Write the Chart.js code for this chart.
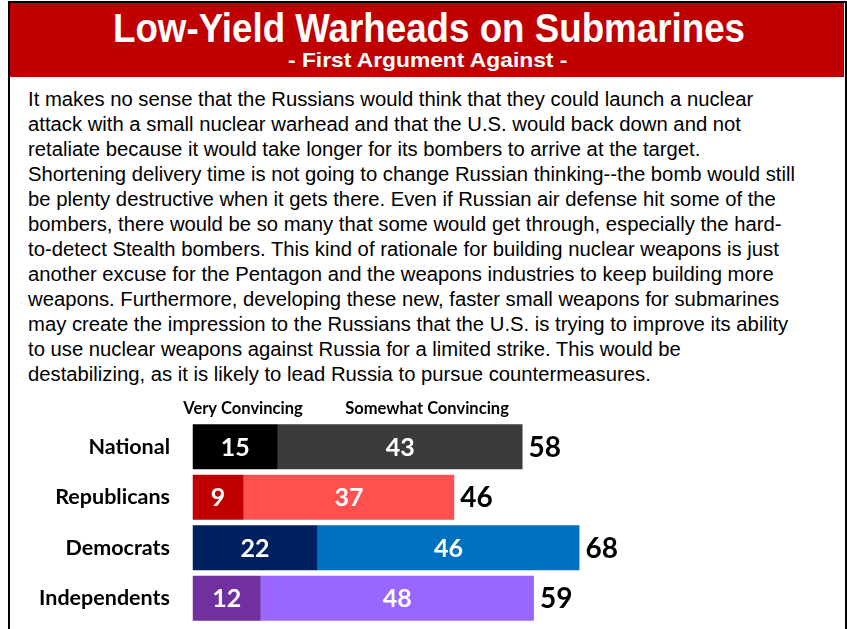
<!DOCTYPE html>
<html>
<head>
<meta charset="utf-8">
<script src="https://cdn.jsdelivr.net/npm/chart.js@4"></script>
<style>
  html, body { margin: 0; padding: 0; background: #fff; }
  body { width: 847px; height: 629px; position: relative; overflow: hidden; font-family: "Liberation Sans", Arial, sans-serif; }
  #frame { position: absolute; left: 8px; top: 1px; width: 835px; height: 640px; border: 2px solid #000; box-sizing: content-box; }
  #titlebox { position: absolute; left: 10px; top: 3px; width: 834px; height: 74px; background: #c00000; }
  .fit { position: absolute; white-space: nowrap; transform-origin: 0 50%; }
  #title { color: #fff; font-weight: bold; font-size: 40px; line-height: 40px; top: 8px; }
  #subtitle { color: #fff; font-weight: bold; font-size: 21px; line-height: 22px; top: 49px; }
  .body-line { color: #000; font-size: 20px; line-height: 24px; left: 28px; }
  #chartwrap { position: absolute; left: 0; top: 390px; width: 847px; height: 239px; }
</style>
</head>
<body>
<div id="frame"></div>
<div id="titlebox"></div>
<div id="title" class="fit">Low-Yield Warheads on Submarines</div>
<div id="subtitle" class="fit">- First Argument Against -</div>
<div id="bodytext"></div>
<div id="chartwrap"><canvas id="c" width="847" height="239"></canvas></div>
<script>
const categories = ["National", "Republicans", "Democrats", "Independents"];
const veryConvincing = [15, 9, 22, 12];
const somewhatConvincing = [43, 37, 46, 48];
const totals = [58, 46, 68, 59];
const seriesNames = ["Very Convincing", "Somewhat Convincing"];
const veryColors = ["#000000", "#c00000", "#002060", "#7030a0"];
const somewhatColors = ["#3d3b39", "#ff5050", "#0070c0", "#9966ff"];

const bodyLines = [
  "It makes no sense that the Russians would think that they could launch a nuclear",
  "attack with a small nuclear warhead and that the U.S. would back down and not",
  "retaliate because it would take longer for its bombers to arrive at the target.",
  "Shortening delivery time is not going to change Russian thinking--the bomb would still",
  "be plenty destructive when it gets there. Even if Russian air defense hit some of the",
  "bombers, there would be so many that some would get through, especially the hard-",
  "to-detect Stealth bombers. This kind of rationale for building nuclear weapons is just",
  "another excuse for the Pentagon and the weapons industries to keep building more",
  "weapons. Furthermore, developing these new, faster small weapons for submarines",
  "may create the impression to the Russians that the U.S. is trying to improve its ability",
  "to use nuclear weapons against Russia for a limited strike. This would be",
  "destabilizing, as it is likely to lead Russia to pursue countermeasures."
];

// layout helpers for text
const mctx = document.createElement('canvas').getContext('2d');
function textWidth(txt, font) { mctx.font = font; return mctx.measureText(txt).width; }

function fitCentered(el, font, targetW, centerX) {
  const w = textWidth(el.textContent, font);
  const s = targetW / w;
  el.style.left = (centerX - targetW / 2) + 'px';
  el.style.transform = 'scaleX(' + s + ')';
}
fitCentered(document.getElementById('title'), 'bold 40px "Liberation Sans"', 632, 429);
fitCentered(document.getElementById('subtitle'), 'bold 21px "Liberation Sans"', 281, 428);

const bt = document.getElementById('bodytext');
const bodyFont = '20px "Liberation Sans"';
const bodyScale = 767 / textWidth(bodyLines[3], bodyFont);
const firstCenter = 99, lineStep = 25;
bodyLines.forEach((ln, i) => {
  const d = document.createElement('div');
  d.className = 'fit body-line';
  d.textContent = ln;
  d.style.top = (firstCenter + i * lineStep - 12) + 'px';
  d.style.transform = 'scaleX(' + bodyScale + ')';
  bt.appendChild(d);
});

const labelFont = '"Lato", "Liberation Sans", sans-serif';

const labelPlugin = {
  id: 'labels',
  afterDatasetsDraw(chart) {
    const ctx = chart.ctx;
    const yScale = chart.scales.y;
    ctx.save();
    // series header labels
    ctx.fillStyle = '#000';
    ctx.font = 'bold 16.5px ' + labelFont;
    ctx.textAlign = 'center';
    ctx.textBaseline = 'middle';
    ctx.fillText(seriesNames[0], 243, 19);
    ctx.fillText(seriesNames[1], 427, 19);
    // category labels
    ctx.font = 'bold 21.5px ' + labelFont;
    ctx.textAlign = 'right';
    categories.forEach((c, i) => {
      ctx.fillText(c, 170, yScale.getPixelForValue(i));
    });
    // inner values
    ctx.font = 'bold 25px ' + labelFont;
    ctx.textAlign = 'center';
    ctx.fillStyle = '#fff';
    chart.data.datasets.forEach((ds, di) => {
      const meta = chart.getDatasetMeta(di);
      meta.data.forEach((bar, i) => {
        const cx = (bar.x + bar.base) / 2;
        ctx.fillText(String(ds.data[i]), cx, bar.y + 1);
      });
    });
    // totals
    ctx.font = 'bold 28px ' + labelFont;
    ctx.textAlign = 'left';
    ctx.fillStyle = '#000';
    const lastMeta = chart.getDatasetMeta(chart.data.datasets.length - 1);
    lastMeta.data.forEach((bar, i) => {
      ctx.fillText(String(totals[i]), bar.x + 6, bar.y + 1);
    });
    ctx.restore();
  }
};

new Chart(document.getElementById('c'), {
  type: 'bar',
  data: {
    labels: categories,
    datasets: [
      { label: seriesNames[0], data: veryConvincing, backgroundColor: veryColors, borderWidth: 0 },
      { label: seriesNames[1], data: somewhatConvincing, backgroundColor: somewhatColors, borderWidth: 0 }
    ]
  },
  options: {
    indexAxis: 'y',
    responsive: false,
    animation: false,
    events: [],
    layout: { padding: { left: 192.5, right: 85.5, top: 31.5, bottom: 5.5 } },
    datasets: { bar: { barPercentage: 0.89, categoryPercentage: 1.0 } },
    scales: {
      x: { stacked: true, min: 0, max: 100, display: false },
      y: { stacked: true, display: false }
    },
    plugins: { legend: { display: false }, tooltip: { enabled: false }, title: { display: false } }
  },
  plugins: [labelPlugin]
});
</script>
</body>
</html>
